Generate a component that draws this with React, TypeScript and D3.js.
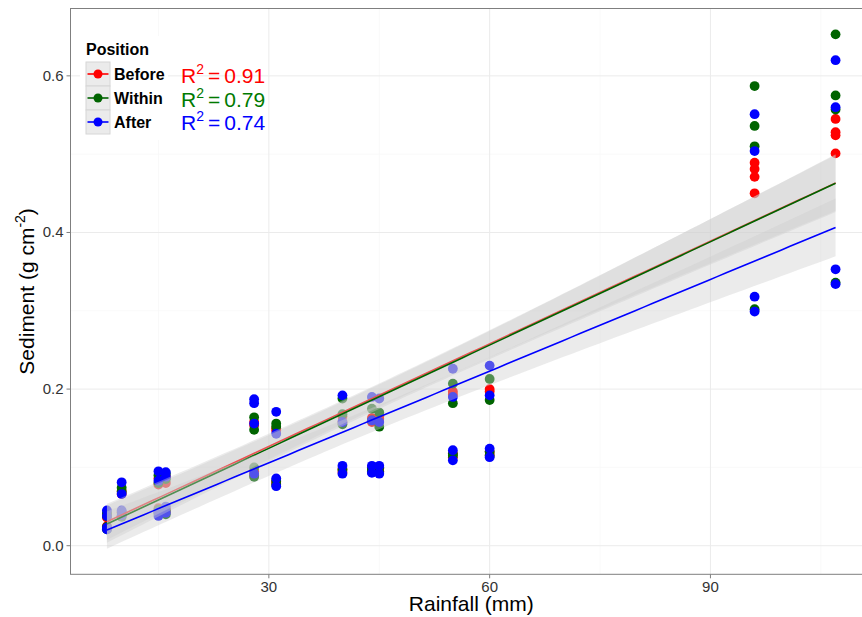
import React from 'react';
import * as d3 from 'd3';

// ---- data ----
const sites = [8, 10, 15, 16, 28, 31, 40, 44, 45, 55, 60, 96, 107];
const repsPerSite = 4;

const before = [
  0.040, 0.036, 0.025, 0.022,
  0.070, 0.066, 0.042, 0.038,
  0.086, 0.078, 0.048, 0.043,
  0.088, 0.080, 0.047, 0.043,
  0.158, 0.154, 0.095, 0.090,
  0.150, 0.147, 0.082, 0.079,
  0.165, 0.158, 0.098, 0.094,
  0.163, 0.158, 0.100, 0.094,
  0.165, 0.162, 0.099, 0.095,
  0.197, 0.193, 0.118, 0.113,
  0.200, 0.197, 0.120, 0.116,
  0.489, 0.481, 0.471, 0.450,
  0.545, 0.528, 0.524, 0.501,
];
const within = [
  0.042, 0.038, 0.024, 0.021,
  0.074, 0.069, 0.043, 0.037,
  0.090, 0.080, 0.046, 0.041,
  0.092, 0.085, 0.045, 0.040,
  0.164, 0.148, 0.100, 0.088,
  0.156, 0.152, 0.083, 0.078,
  0.188, 0.168, 0.155, 0.097,
  0.175, 0.160, 0.098, 0.095,
  0.170, 0.152, 0.100, 0.094,
  0.207, 0.182, 0.117, 0.115,
  0.213, 0.186, 0.120, 0.115,
  0.587, 0.536, 0.510, 0.302,
  0.653, 0.575, 0.557, 0.336,
];
const after = [
  0.045, 0.038, 0.023, 0.021,
  0.081, 0.066, 0.045, 0.039,
  0.095, 0.083, 0.043, 0.038,
  0.094, 0.088, 0.050, 0.042,
  0.187, 0.182, 0.156, 0.092,
  0.171, 0.143, 0.086, 0.076,
  0.192, 0.158, 0.102, 0.092,
  0.190, 0.160, 0.102, 0.093,
  0.188, 0.158, 0.102, 0.092,
  0.226, 0.190, 0.122, 0.109,
  0.230, 0.192, 0.124, 0.113,
  0.551, 0.504, 0.318, 0.299,
  0.620, 0.560, 0.353, 0.334,
];

const positions = ['Before', 'Within', 'After'];
const colors = ['#FF0000', '#006400', '#0000FF'];
const labelColors = ['#FF0000', '#007A00', '#0000FF'];
const r2Labels = ['0.91', '0.79', '0.74'];
const fitIntercept = [-0.0044, -0.0075, -0.0112];
const fitSlope = [0.004371, 0.004396, 0.003903];
const bandHalfWidthAtMean = [0.015, 0.0155, 0.0155];

const xTicks = [30, 60, 90];
const xMinorTicks = [15, 45, 75, 105];
const yTicks = [0, 0.2, 0.4, 0.6];
const yMinorTicks = [0.1, 0.3, 0.5];

const FONT = "'Liberation Sans', Arial, Helvetica, sans-serif";

export default function App() {
  const W = 862, H = 617;
  const panel = { left: 70.5, right: 872, top: 8.5, bottom: 574.3 };
  const x = d3.scaleLinear().domain([3.05, 111.95]).range([panel.left, panel.right]);
  const y = d3.scaleLinear().domain([-0.0365, 0.686]).range([panel.bottom, panel.top]);

  const rainfall: number[] = sites.flatMap((s) => d3.range(repsPerSite).map(() => s));
  const series = [before, within, after];

  const xbar = d3.mean(rainfall) as number;
  const varX = d3.mean(rainfall.map((v) => (v - xbar) ** 2)) as number;
  const xMin = d3.min(rainfall) as number;
  const xMax = d3.max(rainfall) as number;
  const grid = d3.range(0, 81).map((i) => xMin + ((xMax - xMin) * i) / 80);

  const fits = series.map((_, g) => {
    const pts = grid.map((xv) => {
      const c = fitIntercept[g] + fitSlope[g] * xv;
      const hw = bandHalfWidthAtMean[g] * Math.sqrt(1 + (xv - xbar) ** 2 / varX);
      return { x: xv, c, lo: c - hw, hi: c + hw };
    });
    const area = d3.area<any>().x((d) => x(d.x)).y0((d) => y(d.lo)).y1((d) => y(d.hi))(pts) as string;
    const line = d3.line<any>().x((d) => x(d.x)).y((d) => y(d.c))(pts) as string;
    return { area, line };
  });

  const xMid = (panel.left + panel.right) / 2;
  const yMid = (panel.top + panel.bottom) / 2;

  return (
    <svg width={W} height={H} style={{ position: 'absolute', left: 0, top: 0, background: '#fff' }} fontFamily={FONT}>
      <defs>
        <clipPath id="panelClip">
          <rect x={panel.left} y={panel.top} width={panel.right - panel.left} height={panel.bottom - panel.top} />
        </clipPath>
      </defs>
      <rect x={0} y={0} width={W} height={H} fill="#fff" />
      <g clipPath="url(#panelClip)">
        {xMinorTicks.map((t) => (
          <line key={'xm' + t} x1={x(t)} x2={x(t)} y1={panel.top} y2={panel.bottom} stroke="#F7F7F7" strokeWidth={0.8} />
        ))}
        {yMinorTicks.map((t) => (
          <line key={'ym' + t} x1={panel.left} x2={panel.right} y1={y(t)} y2={y(t)} stroke="#F7F7F7" strokeWidth={0.8} />
        ))}
        {xTicks.map((t) => (
          <line key={'xg' + t} x1={x(t)} x2={x(t)} y1={panel.top} y2={panel.bottom} stroke="#EBEBEB" strokeWidth={1} />
        ))}
        {yTicks.map((t) => (
          <line key={'yg' + t} x1={panel.left} x2={panel.right} y1={y(t)} y2={y(t)} stroke="#EBEBEB" strokeWidth={1} />
        ))}
        {series.map((vals, g) =>
          vals.map((v, i) => (
            <circle key={g + '-' + i} cx={x(rainfall[i])} cy={y(v)} r={4.9} fill={colors[g]} />
          ))
        )}
        {fits.map((f, g) => (
          <g key={'fit' + g}>
            <path d={f.area} fill="#CCCCCC" fillOpacity={0.4} stroke="none" />
            <path d={f.line} fill="none" stroke={colors[g]} strokeWidth={1.6} />
          </g>
        ))}
      </g>
      <rect x={panel.left} y={panel.top} width={panel.right - panel.left} height={panel.bottom - panel.top} fill="none" stroke="#7F7F7F" strokeWidth={1} />

      {/* axes */}
      {xTicks.map((t) => (
        <g key={'xt' + t}>
          <line x1={x(t)} x2={x(t)} y1={panel.bottom} y2={panel.bottom + 4} stroke="#7F7F7F" />
          <text x={x(t)} y={panel.bottom + 18} textAnchor="middle" fontSize={15} fill="#333">{t}</text>
        </g>
      ))}
      {yTicks.map((t) => (
        <g key={'yt' + t}>
          <line x1={panel.left - 4} x2={panel.left} y1={y(t)} y2={y(t)} stroke="#7F7F7F" />
          <text x={panel.left - 7} y={y(t) + 5} textAnchor="end" fontSize={15} fill="#333">{d3.format('.1f')(t)}</text>
        </g>
      ))}
      <text x={xMid} y={611} textAnchor="middle" fontSize={21} fill="#000">Rainfall (mm)</text>
      <text transform={`translate(34,${yMid}) rotate(-90)`} textAnchor="middle" fontSize={21} fill="#000">
        Sediment (g cm<tspan fontSize={14} dy={-9}>-2</tspan><tspan dy={9}>)</tspan>
      </text>

      {/* legend */}
      <rect x={80} y={36} width={88} height={104} fill="#fff" />
      <text x={86} y={55} fontSize={16} fontWeight="bold" fill="#000">Position</text>
      {positions.map((p, g) => {
        const ky = 62 + g * 24;
        return (
          <g key={'lg' + p}>
            <rect x={86} y={ky} width={24} height={24} fill="#EBEBEB" stroke="#D6D6D6" strokeWidth={1} />
            <line x1={87.5} x2={108.5} y1={ky + 12} y2={ky + 12} stroke={colors[g]} strokeWidth={1.6} />
            <circle cx={98} cy={ky + 12} r={4.5} fill={colors[g]} />
            <text x={114} y={ky + 18} fontSize={16} fontWeight="bold" fill="#000">{p}</text>
          </g>
        );
      })}
      {positions.map((p, g) => (
        <text key={'r2' + p} x={181} y={83 + g * 23.5} fontSize={21} fill={labelColors[g]}>
          R<tspan fontSize={14} dy={-9}>2</tspan><tspan dy={9} dx={4}>=</tspan><tspan dx={4}>{r2Labels[g]}</tspan>
        </text>
      ))}
    </svg>
  );
}
